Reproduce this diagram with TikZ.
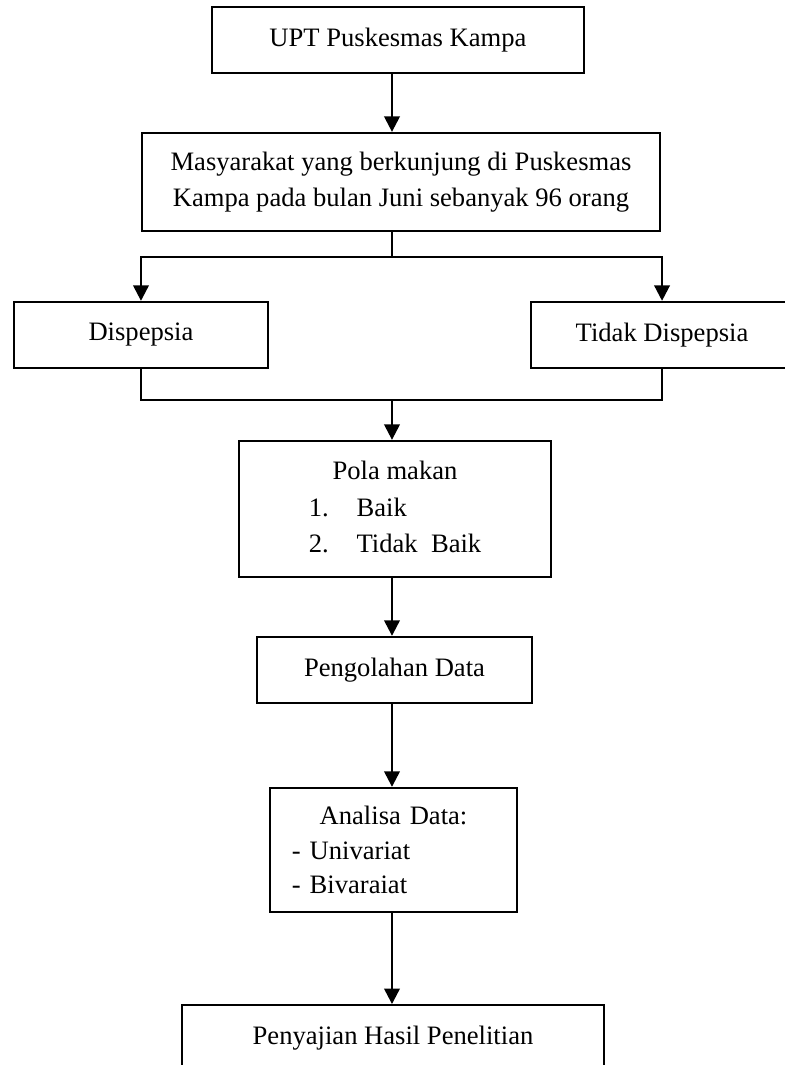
\documentclass[tikz,border=0pt]{standalone}
\usepackage{fontspec}
\setmainfont{Liberation Serif}
\usetikzlibrary{arrows.meta, positioning}
\tikzset{
  stage/.style = {draw, line width=1.05pt, align=center, inner sep=3pt,
                  font=\fontsize{12}{16.5}\selectfont},
  flow/.style  = {-{Triangle[length=7pt, width=7pt]}, line width=1.05pt},
  link/.style  = {line width=1.05pt}
}
\begin{document}
\begin{tikzpicture}
\useasboundingbox (0,0) rectangle (12.435,-16.891);
\coordinate (spine) at (6.217,0);
\coordinate (split) at (6.217,-4.076);
\coordinate (join)  at (6.217,-6.344);
\node[stage, minimum width=5.900cm, minimum height=1.047cm] (upt) at (6.312,-0.634) {UPT Puskesmas Kampa};
\node[stage, minimum width=8.216cm, minimum height=1.554cm] (masy) at (6.360,-2.887)
  {Masyarakat yang berkunjung di Puskesmas\\Kampa pada bulan Juni sebanyak 96 orang};
\node[stage, minimum width=4.029cm, minimum height=1.047cm] (disp) at (2.236,-5.313) {Dispepsia};
\node[stage, minimum width=4.155cm, minimum height=1.047cm] (tidak) at (10.500,-5.313) {Tidak Dispepsia};
\node[stage, minimum width=4.948cm, minimum height=2.157cm] (pola) at (6.265,-8.073)
  {\begin{tabular}{@{}l@{\hspace{12.6pt}}l@{}}\multicolumn{2}{@{}c@{}}{Pola makan}\\1.&Baik\\2.&Tidak\ \ Baik\end{tabular}};
\node[stage, minimum width=4.362cm, minimum height=1.047cm] (olah) at (6.257,-10.626) {Pengolahan Data};
\node[stage, align=left, text width=3.220cm, inner xsep=0.349cm, minimum height=1.967cm,
      font=\fontsize{12}{15.4}\selectfont] (analisa) at (6.241,-13.481)
  {\makebox[\linewidth]{Analisa Data:}\\- Univariat\\- Bivaraiat};
\node[stage, anchor=north, minimum width=6.693cm, minimum height=1.047cm] (hasil) at (6.233,-15.924) {Penyajian Hasil Penelitian};
% branch and merge
\draw[link] (masy.south -| spine) -- (split);
\draw[flow] (split) -| (disp.north);
\draw[flow] (split) -| (tidak.north);
\draw[link] (disp.south) |- (join);
\draw[link] (tidak.south) |- (join);
\draw[flow] (join) -- (pola.north -| spine);
\foreach \a/\b in {upt/masy, pola/olah, olah/analisa, analisa/hasil}
  \draw[flow] (\a.south -| spine) -- (\b.north -| spine);
\end{tikzpicture}
\end{document}
